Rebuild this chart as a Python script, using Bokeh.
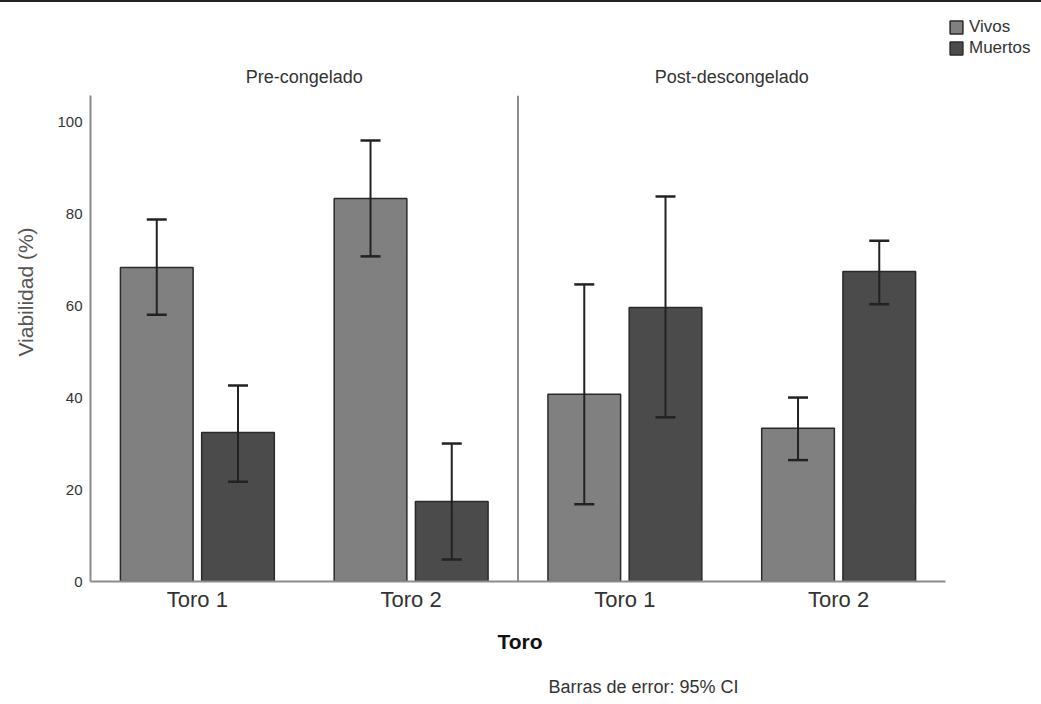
from bokeh.plotting import figure
from bokeh.models import (Range1d, Label, Legend, LegendItem, Whisker, TeeHead,
                          ColumnDataSource, Title)
from bokeh.transform import dodge
from bokeh.embed import file_html
from bokeh.resources import INLINE

# ---- data ----
stages = ["Pre-congelado", "Post-descongelado"]
categories = ["Toro 1", "Toro 2"]
series = ["Vivos", "Muertos"]

vivos = [68.3, 83.3, 40.7, 33.3]
vivos_lower = [58.0, 70.7, 16.8, 26.4]
vivos_upper = [78.7, 95.9, 64.6, 40.0]

muertos = [32.4, 17.4, 59.6, 67.4]
muertos_lower = [21.7, 4.8, 35.7, 60.3]
muertos_upper = [42.6, 30.0, 83.7, 74.1]

y_ticks = [0, 20, 40, 60, 80, 100]
x_title = "Toro"
footnote = "Barras de error: 95% CI"

# ---- styles ----
FONT = "Liberation Sans"
C_VIVOS = "#808080"
C_MUERTOS = "#4b4b4b"
C_EDGE = "#2a2a2a"
C_AXIS = "#8c8c8c"
Y_AXIS_TOP = 105.65     # top of the drawn axis lines
Y_VIEW_TOP = 125.9      # frame top (room for panel titles and legend)

labels = [c for s in stages for c in categories]
xpos = [i + 0.5 for i in range(len(labels))]
n_groups = len(labels)
X_VIEW_END = n_groups + 0.449   # room on the right for the legend

src = ColumnDataSource(dict(
    x=xpos,
    vivos=vivos, vivos_lower=vivos_lower, vivos_upper=vivos_upper,
    muertos=muertos, muertos_lower=muertos_lower, muertos_upper=muertos_upper,
))

p = figure(
    x_range=Range1d(0, X_VIEW_END),
    y_range=Range1d(0, Y_VIEW_TOP),
    width=1041, height=702,
    output_backend="svg", toolbar_location=None,
    min_border_left=90, min_border_right=0, min_border_top=0, min_border_bottom=123,
)
p.styles = {"border-top": "2px solid #222222"}
p.outline_line_color = None
p.xgrid.visible = False
p.ygrid.visible = False
p.background_fill_color = "white"

OFF = 0.19
BW = 0.34
r_v = p.vbar(x=dodge("x", -OFF), top="vivos", width=BW, source=src,
             fill_color=C_VIVOS, line_color=C_EDGE, line_width=1.5)
r_m = p.vbar(x=dodge("x", OFF), top="muertos", width=BW, source=src,
             fill_color=C_MUERTOS, line_color=C_EDGE, line_width=1.5)

for off, lo, up in [(-OFF, "vivos_lower", "vivos_upper"), (OFF, "muertos_lower", "muertos_upper")]:
    w = Whisker(base=dodge("x", off), lower=lo, upper=up, source=src,
                line_color="#222222", line_width=2, level="overlay",
                upper_head=TeeHead(size=20, line_color="#222222", line_width=2.5),
                lower_head=TeeHead(size=20, line_color="#222222", line_width=2.5))
    p.add_layout(w)

# panel separator (left axis line of the second panel)
sep_x = len(categories)
p.segment(x0=[sep_x], y0=[0], x1=[sep_x], y1=[Y_AXIS_TOP], line_color=C_AXIS, line_width=2)

# y axis
p.yaxis.ticker = y_ticks
p.yaxis.bounds = (0, Y_AXIS_TOP)
p.yaxis.axis_label = "Viabilidad (%)"
p.yaxis.axis_label_text_font = FONT
p.yaxis.axis_label_text_font_style = "normal"
p.yaxis.axis_label_text_font_size = "21px"
p.yaxis.axis_label_text_color = "#555555"
p.yaxis.axis_label_standoff = 17
p.yaxis.major_label_text_font = FONT
p.yaxis.major_label_text_font_size = "15px"
p.yaxis.major_label_text_color = "#333333"
p.yaxis.major_label_standoff = 8
p.yaxis.major_tick_out = 0
p.yaxis.major_tick_in = 0
p.yaxis.minor_tick_out = 0
p.yaxis.minor_tick_in = 0
p.yaxis.axis_line_color = C_AXIS
p.yaxis.axis_line_width = 2

# x axis
p.xaxis.ticker = xpos
p.xaxis.major_label_overrides = {x: lab for x, lab in zip(xpos, labels)}
p.xaxis.bounds = (0, n_groups)
p.xaxis.major_label_text_font = FONT
p.xaxis.major_label_text_font_size = "22px"
p.xaxis.major_label_text_color = "#333333"
p.xaxis.major_label_standoff = 5
p.xaxis.major_tick_out = 0
p.xaxis.major_tick_in = 0
p.xaxis.minor_tick_out = 0
p.xaxis.minor_tick_in = 0
p.xaxis.axis_line_color = C_AXIS
p.xaxis.axis_line_width = 2

# x title and footnote below the axis
p.add_layout(Title(text=x_title, align="left", offset=407, standoff=27,
                   text_font=FONT, text_font_size="21px", text_font_style="bold",
                   text_color="#111111", text_line_height=1.0), "below")
p.add_layout(Title(text=footnote, align="left", offset=458, standoff=16,
                   text_font=FONT, text_font_size="18px", text_font_style="normal",
                   text_color="#333333", text_line_height=1.0), "below")

# panel titles
for i, s in enumerate(stages):
    p.add_layout(Label(x=len(categories) * (i + 0.5), y=109.6, text=s,
                       text_align="center", text_baseline="middle",
                       text_font=FONT, text_font_size="18px", text_color="#333333"))

legend = Legend(items=[LegendItem(label=series[0], renderers=[r_v]),
                       LegendItem(label=series[1], renderers=[r_m])],
                location=(858, 523), orientation="vertical",
                glyph_width=16, glyph_height=16, label_height=21, spacing=0,
                padding=0, margin=0, label_standoff=5,
                label_text_font=FONT, label_text_font_size="17px", label_text_color="#333333",
                border_line_alpha=0, background_fill_alpha=0)
p.add_layout(legend)

open("out.html", "w").write(file_html(p, INLINE))
